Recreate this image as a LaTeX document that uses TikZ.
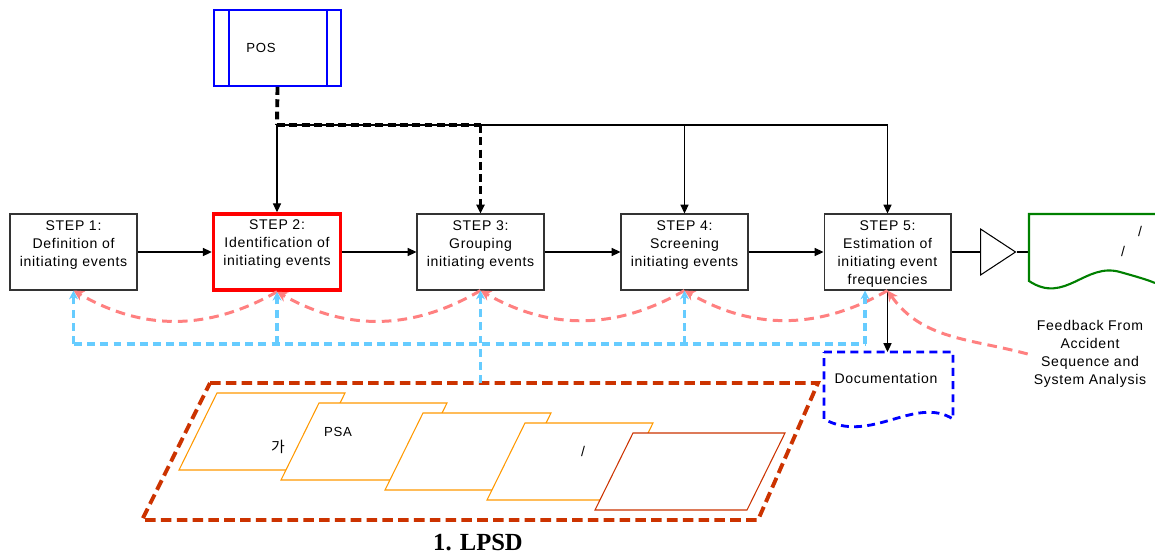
\documentclass[tikz,border=0pt]{standalone}
\usepackage{fontspec}
\setmainfont{Liberation Sans}[LetterSpace=5]
\newfontfamily\krfont{Noto Sans CJK KR}
\newfontfamily\capfont{Liberation Serif}
\usepackage{tikz}
\usetikzlibrary{arrows.meta,positioning,calc,shapes.geometric}

\definecolor{posblue}{RGB}{0,0,255}
\definecolor{fbpink}{RGB}{255,128,128}
\definecolor{retblue}{RGB}{102,204,255}
\definecolor{lpsdred}{RGB}{204,51,0}
\definecolor{pageorange}{RGB}{255,153,0}
\definecolor{outgreen}{RGB}{0,128,0}

\begin{document}
\begin{tikzpicture}[x=0.02cm, y=-0.02cm,
    font=\fontsize{8}{10.2}\selectfont,
    stepbox/.style={draw=black!80, line width=0.6pt, minimum width=2.54cm, minimum height=1.52cm, inner sep=0pt},
    keybox/.style={stepbox, draw=red, line width=2pt},
    steptext/.style={anchor=north, align=center, inner sep=4pt},
    flow/.style={-{Triangle[length=5pt,width=4.6pt]}, line width=0.6pt},
    busdash/.style={line width=2.2pt, dash pattern=on 4.5pt off 2.5pt},
    feedback/.style={fbpink, line width=1.7pt, dash pattern=on 5.5pt off 3.5pt, -{Stealth[length=6pt,width=6pt]}},
    retline/.style={retblue, line width=2pt, dash pattern=on 4.5pt off 3pt},
    retarrow/.style={retline, -{Stealth[length=5pt,width=5pt]}},
    page/.style={pageorange, line width=0.6pt, fill=white}]

    \useasboundingbox (0,0) rectangle (1155,558);
    \fill[white] (0,0) rectangle (1155,558);

    % POS
    \node[draw=posblue, line width=1.1pt, minimum width=2.54cm, minimum height=1.52cm] (pos) at (277.5,48) {};
    \draw[posblue, line width=1.1pt] ([xshift=0.32cm]pos.north west) -- ([xshift=0.32cm]pos.south west);
    \draw[posblue, line width=1.1pt] ([xshift=-0.3cm]pos.north east) -- ([xshift=-0.3cm]pos.south east);
    \node[font=\fontsize{7.5}{8}\selectfont] (postext) at (261,47.5) {POS};

    % Steps
    \foreach \i/\x/\sty/\txt in {1/73.5/stepbox/{STEP 1:\\Definition of\\initiating events},
                                 2/277/keybox/{STEP 2:\\Identification of\\initiating events},
                                 3/480.5/stepbox/{STEP 3:\\Grouping\\initiating events},
                                 4/684.5/stepbox/{STEP 4:\\Screening\\initiating events},
                                 5/887.5/stepbox/{STEP 5:\\Estimation of\\initiating event\\frequencies}} {
        \node[\sty] (s\i) at (\x,252) {};
        \node[steptext] (t\i) at (s\i.north) {\txt};
    }
    \foreach \a/\b in {1/2, 2/3, 3/4, 4/5}
        \draw[flow] (s\a.east) -- (s\b.west);

    % POS bus
    \coordinate (bus) at (277,125);
    \draw[busdash] (pos.south) -- (bus);
    \draw[line width=0.6pt] (bus) -- (bus -| s5.north);
    \draw[busdash] (bus) -- (bus -| s3.north);
    \draw[flow] (bus) -- (s2.north);
    \draw[busdash, -{Triangle[length=5pt,width=4.6pt]}] (bus -| s3.north) -- (s3.north);
    \foreach \n in {s4, s5}
        \draw[flow] (bus -| \n.north) -- (\n.north);

    % Output
    \node[draw, isosceles triangle, isosceles triangle stretches, minimum height=0.7cm, minimum width=0.92cm,
          inner sep=0pt, anchor=west, line width=0.6pt] (tri) at (980,252) {};
    \coordinate (outin) at (1029,252);
    \draw[line width=0.6pt] (s5.east) -- (tri.west);
    \draw[line width=0.6pt] (tri.apex) -- (outin);
    \draw[outgreen, line width=1.2pt] (1155,214) -- (1029,214) -- (1029,281)
        .. controls (1065,305) and (1085,262) .. (1120,272)
        .. controls (1138,277) and (1148,280) .. (1155,283);
    \node (o1) at (1140,231) {/};
    \node (o2) at (1123,251) {/};

    % Documentation
    \draw[posblue, line width=1.6pt, dash pattern=on 4.5pt off 3pt] (824,352) -- (953,352) -- (953,419)
        .. controls (915,395) and (870,445) .. (824,419) -- cycle;
    \node (doc) at (886,378) {Documentation};
    \coordinate (doctop) at (888,352);
    \draw[flow] (s5.south) -- (s5.south |- doctop);

    % Feedback
    \foreach \a/\b in {2/1, 3/2, 4/3, 5/4}
        \draw[feedback] (s\a.south) to[bend left=30] (s\b.south);
    \node[align=center] (fb) at (1090,354) {Feedback From\\Accident\\Sequence and\\System Analysis};
    \draw[feedback] (fb.west) to[out=165, in=-55] (s5.south);

    % LPSD
    \draw[lpsdred, line width=2.2pt, dash pattern=on 6pt off 3pt] (210,383) -- (818,383) -- (758,520) -- (142,520) -- cycle;
    \coordinate (lpsdtop) at (482,383);
    \foreach \x/\y in {217/393, 319/403, 423/413, 525/423}
        \draw[page] (\x,\y) -- ++(128,0) -- ++(-38,77) -- ++(-128,0) -- cycle;
    \draw[page, draw=lpsdred] (633,433) -- ++(152,0) -- ++(-38,77) -- ++(-152,0) -- cycle;
    \node[font=\krfont\fontsize{8.5}{10}\selectfont] (ga) at (278,447) {가};
    \node[font=\fontsize{7.5}{8}\selectfont] (psa) at (338,432) {PSA};
    \node (sl) at (583,451) {/};
    \node[font=\capfont\bfseries\fontsize{14}{16}\selectfont] (cap) at (478,543) {1. LPSD};

    % Return lines
    \coordinate (ret) at (74,344);
    \coordinate (ret5) at (865,344);
    \draw[retline] (ret) -- (ret5);
    \foreach \n in {s1, s2, s4}
        \draw[retarrow] (\n.south |- ret) -- (\n.south);
    \draw[retarrow] (ret5) -- (ret5 |- s5.south);
    \draw[retarrow] (s3.south |- lpsdtop) -- (s3.south);
\end{tikzpicture}
\end{document}
